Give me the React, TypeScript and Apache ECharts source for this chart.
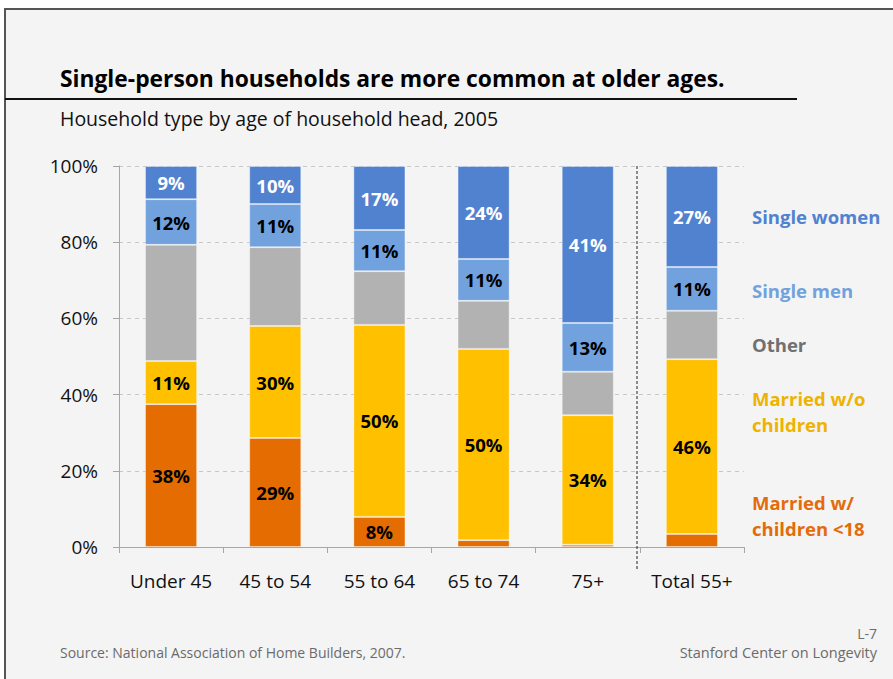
import React, { useEffect, useRef } from "react";
import * as echarts from "echarts";

const categories = ["Under 45", "45 to 54", "55 to 64", "65 to 74", "75+", "Total 55+"];
const marriedWithKids = [37.5, 28.6, 7.9, 1.8, 0.6, 3.4];
const marriedNoKids = [11.3, 29.4, 50.4, 50.2, 34.0, 45.9];
const other = [30.5, 20.7, 14.1, 12.6, 11.4, 12.7];
const singleMen = [12.0, 11.3, 10.8, 11.0, 12.8, 11.5];
const singleWomen = [8.7, 10.0, 16.8, 24.4, 41.2, 26.5];

const withKidsLabels = ["38%", "29%", "8%", "", "", ""];
const noKidsLabels = ["11%", "30%", "50%", "50%", "34%", "46%"];
const otherLabels = ["", "", "", "", "", ""];
const menLabels = ["12%", "11%", "11%", "11%", "13%", "11%"];
const womenLabels = ["9%", "10%", "17%", "24%", "41%", "27%"];

const FONT = "'Open Sans', 'Noto Sans', sans-serif";

export default function App() {
  const ref = useRef<HTMLDivElement>(null);
  useEffect(() => {
    if (!ref.current) return;
    const chart = echarts.init(ref.current, undefined, { renderer: "svg" });
    const mk = (name: string, data: number[], labels: string[], color: string, labelColor: string) => ({
      name,
      type: "bar",
      stack: "total",
      data,
      barWidth: "50%",
      itemStyle: { color, borderColor: "rgba(255,255,255,0.35)", borderWidth: 1 },
      label: {
        show: true,
        position: "inside",
        formatter: (p: any) => labels[p.dataIndex],
        color: labelColor,
        fontFamily: FONT,
        fontWeight: "bold",
        fontSize: 18.5,
      },
    });
    chart.setOption({
      animation: false,
      backgroundColor: "#ffffff",
      grid: { left: 119, right: 149, top: 166, bottom: 132 },
      xAxis: {
        type: "category",
        data: categories,
        axisLine: { lineStyle: { color: "#a6a6a6", width: 1 } },
        axisTick: { show: true, interval: 0, length: 6, lineStyle: { color: "#a6a6a6" } },
        axisLabel: { interval: 0, hideOverlap: false, color: "#111", fontFamily: FONT, fontSize: 19, margin: 24 },
      },
      yAxis: {
        type: "value",
        min: 0,
        max: 100,
        interval: 20,
        axisLine: { show: true, lineStyle: { color: "#a6a6a6" } },
        axisTick: { show: true, length: 6, lineStyle: { color: "#a6a6a6" } },
        axisLabel: { color: "#111", fontFamily: FONT, fontSize: 19, margin: 21, formatter: "{value}%" },
        splitLine: { show: true, lineStyle: { color: "#c8c8c8", type: [4, 4] } },
      },
      graphic: [
        { type: "rect", z: -10, shape: { x: 5, y: 9, width: 900, height: 700 }, style: { fill: "#f4f4f4", stroke: "#555", lineWidth: 2 } },
        { type: "line", shape: { x1: 5, y1: 99, x2: 797, y2: 99 }, style: { stroke: "#111", lineWidth: 2 } },
        { type: "text", x: 60, y: 78, style: { text: "Single-person households are more common at older ages.", fill: "#000", font: `bold 22.8px ${FONT}`, textVerticalAlign: "middle" } },
        { type: "text", x: 60, y: 118, style: { text: "Household type by age of household head, 2005", fill: "#111", font: `19.5px ${FONT}`, textVerticalAlign: "middle" } },
        { type: "line", z: 10, shape: { x1: 637, y1: 166, x2: 637, y2: 570 }, style: { stroke: "#222", lineWidth: 1, lineDash: [3, 2] } },
        { type: "text", x: 752, y: 216, style: { text: "Single women", fill: "#5182d0", font: `bold 18.5px ${FONT}`, textVerticalAlign: "middle" } },
        { type: "text", x: 752, y: 290, style: { text: "Single men", fill: "#72a2de", font: `bold 18.5px ${FONT}`, textVerticalAlign: "middle" } },
        { type: "text", x: 752, y: 344, style: { text: "Other", fill: "#707070", font: `bold 18.5px ${FONT}`, textVerticalAlign: "middle" } },
        { type: "text", x: 752, y: 398, style: { text: "Married w/o", fill: "#edb300", font: `bold 18.5px ${FONT}`, textVerticalAlign: "middle" } },
        { type: "text", x: 752, y: 424, style: { text: "children", fill: "#edb300", font: `bold 18.5px ${FONT}`, textVerticalAlign: "middle" } },
        { type: "text", x: 752, y: 502, style: { text: "Married w/", fill: "#e36c0a", font: `bold 18.5px ${FONT}`, textVerticalAlign: "middle" } },
        { type: "text", x: 752, y: 528, style: { text: "children <18", fill: "#e36c0a", font: `bold 18.5px ${FONT}`, textVerticalAlign: "middle" } },
        { type: "text", x: 60, y: 652, style: { text: "Source: National Association of Home Builders, 2007.", fill: "#6b6b6b", font: `14px ${FONT}`, textVerticalAlign: "middle" } },
        { type: "text", x: 877, y: 633, style: { text: "L-7", fill: "#6b6b6b", font: `14px ${FONT}`, textAlign: "right", textVerticalAlign: "middle" } },
        { type: "text", x: 877, y: 652, style: { text: "Stanford Center on Longevity", fill: "#6b6b6b", font: `14.5px ${FONT}`, textAlign: "right", textVerticalAlign: "middle" } },
      ],
      series: [
        mk("Married w/ children <18", marriedWithKids, withKidsLabels, "#e46c00", "#000"),
        mk("Married w/o children", marriedNoKids, noKidsLabels, "#ffc000", "#000"),
        mk("Other", other, otherLabels, "#b2b2b2", "#000"),
        mk("Single men", singleMen, menLabels, "#72a2de", "#000"),
        mk("Single women", singleWomen, womenLabels, "#5182d0", "#fff"),
      ],
    });
    return () => chart.dispose();
  }, []);
  return <div ref={ref} style={{ position: "fixed", left: 0, top: 0, width: 893, height: 679 }} />;
}
